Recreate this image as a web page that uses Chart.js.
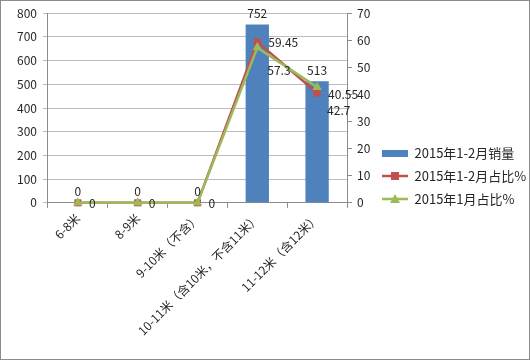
<!DOCTYPE html>
<html>
<head>
<meta charset="utf-8">
<script src="https://cdn.jsdelivr.net/npm/chart.js@4"></script>
<style>
    html, body { margin: 0; padding: 0; background: #fff; }
    #wrap { width: 530px; height: 360px; }
</style>
</head>
<body>
<div id="wrap"><canvas id="lengthChart" width="530" height="360"></canvas></div>
<script>
// Chart data
const categories = ['6-8米', '8-9米', '9-10米（不含）', '10-11米（含10米，不含11米）', '11-12米（含12米）'];
const salesVolume = [0, 0, 0, 752, 513];
const shareJanFeb = [0, 0, 0, 59.45, 40.55];
const shareJan = [0, 0, 0, 57.3, 42.7];
const leftTicks = [0, 100, 200, 300, 400, 500, 600, 700, 800];
const rightTicks = [0, 10, 20, 30, 40, 50, 60, 70];
const seriesNames = ['2015年1-2月销量', '2015年1-2月占比%', '2015年1月占比%'];

const FONT = '"Noto Sans CJK SC", "DejaVu Sans", sans-serif';
const BLUE = '#4F81BD';
const RED = '#C0504D';
const GREEN = '#9BBB59';
const TEXT = '#262626';

// Small legend icons (line + marker, or a flat bar)
function makeIcon(kind, color) {
    const c = document.createElement('canvas');
    c.width = 26;
    c.height = 12;
    const g = c.getContext('2d');
    if (kind === 'bar') {
        g.fillStyle = color;
        g.fillRect(0, 3, 26, 7);
        return c;
    }
    g.strokeStyle = color;
    g.lineWidth = 2.5;
    g.beginPath();
    g.moveTo(0, 6);
    g.lineTo(26, 6);
    g.stroke();
    g.fillStyle = color;
    if (kind === 'rect') {
        g.fillRect(9, 2, 8, 8);
    } else {
        g.beginPath();
        g.moveTo(13, 1);
        g.lineTo(18, 10);
        g.lineTo(8, 10);
        g.closePath();
        g.fill();
    }
    return c;
}

const legendIcons = [makeIcon('bar', BLUE), makeIcon('rect', RED), makeIcon('tri', GREEN)];

// Value labels drawn next to the marks
const valueLabels = {
    id: 'valueLabels',
    afterDatasetsDraw(chart) {
        const ctx = chart.ctx;
        ctx.save();
        ctx.font = '12px ' + FONT;
        ctx.fillStyle = TEXT;
        chart.data.datasets.forEach((ds, i) => {
            const meta = chart.getDatasetMeta(i);
            meta.data.forEach((el, j) => {
                const v = ds.data[j];
                if (i === 0) {
                    ctx.textAlign = 'center';
                    ctx.textBaseline = 'bottom';
                    ctx.fillText(String(v), el.x, el.y - 5);
                } else if (i === 1) {
                    ctx.textAlign = 'left';
                    ctx.textBaseline = 'middle';
                    ctx.fillText(String(v), el.x + 11, el.y + 1);
                } else if (v !== 0) {
                    ctx.textAlign = 'left';
                    ctx.textBaseline = 'middle';
                    ctx.fillText(String(v), el.x + 10, el.y + 23);
                }
            });
        });
        ctx.restore();
    }
};

// Thin gray frame round the whole picture
const outerFrame = {
    id: 'outerFrame',
    afterDraw(chart) {
        const ctx = chart.ctx;
        ctx.save();
        ctx.strokeStyle = '#8c8c8c';
        ctx.lineWidth = 1;
        ctx.strokeRect(0.5, 0.5, chart.width - 1, chart.height - 1);
        ctx.restore();
    }
};

new Chart(document.getElementById('lengthChart'), {
    data: {
        labels: categories,
        datasets: [
            {
                type: 'bar',
                label: seriesNames[0],
                data: salesVolume,
                backgroundColor: BLUE,
                yAxisID: 'y',
                barPercentage: 0.78,
                categoryPercentage: 0.5,
                order: 3
            },
            {
                type: 'line',
                label: seriesNames[1],
                data: shareJanFeb,
                borderColor: RED,
                backgroundColor: RED,
                borderWidth: 2.5,
                pointStyle: 'rect',
                pointRadius: 5,
                pointBorderWidth: 0,
                clip: false,
                yAxisID: 'y1',
                order: 2
            },
            {
                type: 'line',
                label: seriesNames[2],
                data: shareJan,
                borderColor: GREEN,
                backgroundColor: GREEN,
                borderWidth: 2.5,
                pointStyle: 'triangle',
                pointRadius: 5.5,
                pointBorderWidth: 0,
                clip: false,
                yAxisID: 'y1',
                order: 1
            }
        ]
    },
    options: {
        responsive: false,
        animation: false,
        layout: {
            padding: { left: 11, top: 11, right: 0, bottom: 19 }
        },
        plugins: {
            tooltip: { enabled: false },
            legend: {
                position: 'right',
                maxWidth: 158,
                labels: {
                    usePointStyle: true,
                    pointStyleWidth: 26,
                    padding: 10,
                    color: TEXT,
                    font: { family: FONT, size: 13 },
                    generateLabels: chart => chart.data.datasets.map((ds, i) => ({
                        text: ds.label,
                        datasetIndex: i,
                        pointStyle: legendIcons[i],
                        fontColor: TEXT,
                        lineWidth: 0,
                        hidden: false
                    }))
                }
            }
        },
        scales: {
            x: {
                offset: true,
                grid: {
                    offset: true,
                    drawOnChartArea: false,
                    drawTicks: true,
                    tickLength: 5,
                    color: '#8c8c8c'
                },
                border: { color: '#8c8c8c' },
                ticks: {
                    maxRotation: 45,
                    minRotation: 45,
                    autoSkip: false,
                    color: TEXT,
                    font: { family: FONT, size: 12 }
                }
            },
            y: {
                position: 'left',
                min: 0,
                max: 800,
                afterBuildTicks: axis => { axis.ticks = leftTicks.map(v => ({ value: v })); },
                grid: {
                    color: '#bdbdbd',
                    tickLength: 5
                },
                border: { color: '#8c8c8c' },
                ticks: {
                    color: TEXT,
                    padding: 6,
                    font: { family: FONT, size: 12 }
                }
            },
            y1: {
                position: 'right',
                min: 0,
                max: 70,
                afterBuildTicks: axis => { axis.ticks = rightTicks.map(v => ({ value: v })); },
                afterFit: axis => { axis.width = 25; },
                grid: {
                    drawOnChartArea: false,
                    color: '#8c8c8c',
                    tickLength: 5
                },
                border: { color: '#8c8c8c' },
                ticks: {
                    color: TEXT,
                    padding: 5,
                    font: { family: FONT, size: 12 }
                }
            }
        }
    },
    plugins: [valueLabels, outerFrame]
});
</script>
</body>
</html>
